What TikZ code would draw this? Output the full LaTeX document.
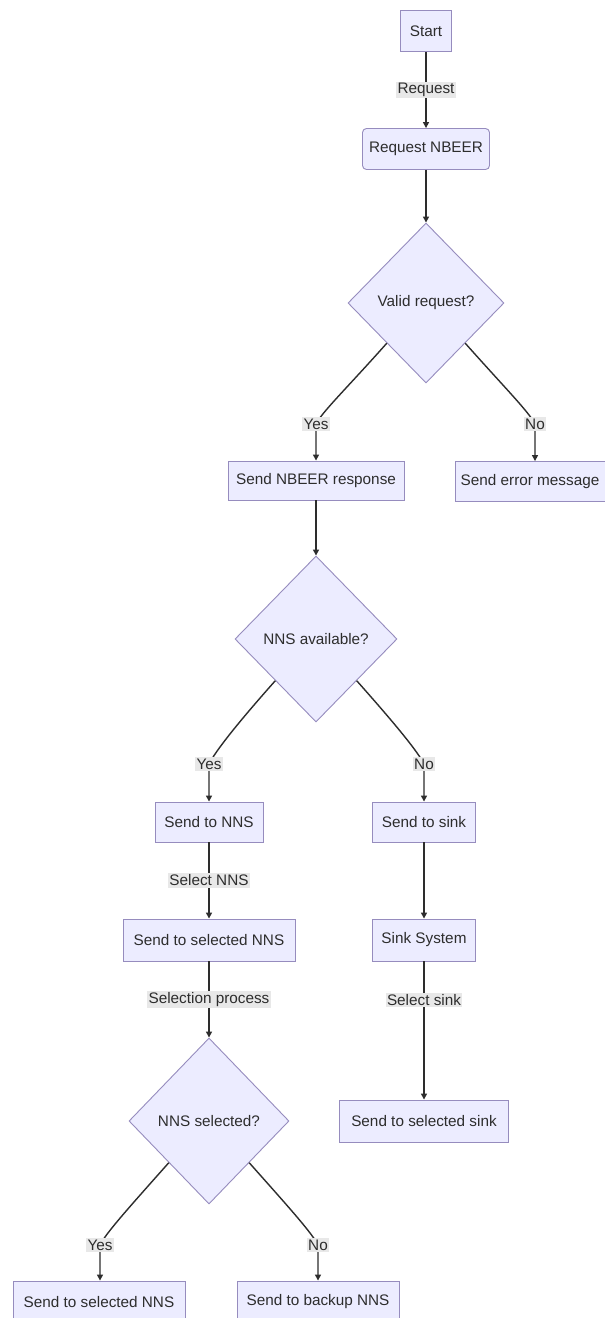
\documentclass[tikz,border=0pt]{standalone}
\usepackage{fontspec}
\setmainfont{Liberation Sans}
\usetikzlibrary{shapes.geometric,arrows.meta,calc}
\definecolor{boxfill}{RGB}{236,236,255}
\definecolor{boxdraw}{RGB}{150,140,190}
\definecolor{txt}{RGB}{45,45,45}
\definecolor{lblbg}{RGB}{232,232,232}
\tikzset{
  procbox/.style={draw=boxdraw, fill=boxfill, line width=0.9pt, text=txt,
    font=\fontsize{15.3}{18}\selectfont, inner sep=0pt, minimum height=41pt},
  decbox/.style={diamond, draw=boxdraw, fill=boxfill, line width=0.9pt, text=txt,
    font=\fontsize{15.3}{18}\selectfont, inner sep=0pt},
  elabel/.style={fill=lblbg, text=txt, font=\fontsize{15.3}{18}\selectfont,
    inner xsep=1.5pt, inner ysep=1.5pt},
  edge/.style={draw=txt, line width=1.4pt, -{Triangle[length=6pt,width=6pt]}},
}
\begin{document}
\begin{tikzpicture}[x=1pt,y=-1pt]
\useasboundingbox (0,0) rectangle (605,1318);
\clip (0,0) rectangle (605,1318);
\fill[white] (0,0) rectangle (605,1318);

% nodes
\node[procbox, minimum width=51pt] (start) at (426,31) {Start};
\node[procbox, minimum width=127pt, rounded corners=4pt] (req) at (426,149) {Request NBEER};
\node[decbox, minimum width=156pt, minimum height=160pt] (valid) at (426,303) {Valid request?};
\node[procbox, minimum width=176pt, minimum height=39pt] (snr) at (316,480.5) {Send NBEER response};
\node[procbox, minimum width=150pt, minimum height=40pt] (err) at (530,481.5) {Send error message};
\node[decbox, minimum width=162pt, minimum height=166pt] (avail) at (316,639) {NNS available?};
\node[procbox, minimum width=108pt, minimum height=40pt] (sendnns) at (209,822) {Send to NNS};
\node[procbox, minimum width=103pt, minimum height=40pt] (sendsink) at (424,822) {Send to sink};
\node[procbox, minimum width=172pt, minimum height=42pt] (selnns) at (209,940) {Send to selected NNS};
\node[procbox, minimum width=103pt, minimum height=42pt] (sinksys) at (424,940) {Sink System};
\node[decbox, minimum width=160pt, minimum height=166pt] (nnssel) at (209,1121) {NNS selected?};
\node[procbox, minimum width=169pt, minimum height=42pt] (selsink) at (424,1121) {Send to selected sink};
\node[procbox, minimum width=172pt, minimum height=42pt] (finnns) at (99,1302) {Send to selected NNS};
\node[procbox, minimum width=162pt, minimum height=42pt] (backup) at (318,1302) {Send to backup NNS};

% label coordinates
\coordinate (y1) at (316,424);
\coordinate (n1) at (535,424);
\coordinate (y2) at (209,764);
\coordinate (n2) at (424,764);
\coordinate (y3) at (100,1245);
\coordinate (n3) at (318,1245);

% straight edges
\draw[edge] (start) -- node[elabel, pos=0.5]{Request} (req);
\draw[edge] (req) -- (valid);
\draw[edge] (snr) -- (avail);
\draw[edge] (sendnns) -- node[elabel, pos=0.5]{Select NNS} (selnns);
\draw[edge] (selnns) -- node[elabel, pos=0.5]{Selection process} (nnssel);
\draw[edge] (sendsink) -- (sinksys);
\draw[edge] (sinksys) -- node[elabel, pos=0.28]{Select sink} (selsink);

% curved edges from decisions
\draw[edge] ($(valid.south)!0.5!(valid.west)$) .. controls +(-40,45) and +(6,-12) .. (y1) node[elabel]{Yes} -- (snr.north);
\draw[edge] ($(valid.south)!0.5!(valid.east)$) .. controls +(40,45) and +(-6,-12) .. (n1) node[elabel]{No} -- (err.north -| n1);
\draw[edge] ($(avail.south)!0.5!(avail.west)$) .. controls +(-40,45) and +(6,-12) .. (y2) node[elabel]{Yes} -- (sendnns.north);
\draw[edge] ($(avail.south)!0.5!(avail.east)$) .. controls +(40,45) and +(-6,-12) .. (n2) node[elabel]{No} -- (sendsink.north);
\draw[edge] ($(nnssel.south)!0.5!(nnssel.west)$) .. controls +(-40,45) and +(6,-12) .. (y3) node[elabel]{Yes} -- (finnns.north -| y3);
\draw[edge] ($(nnssel.south)!0.5!(nnssel.east)$) .. controls +(40,45) and +(-6,-12) .. (n3) node[elabel]{No} -- (backup.north);
\end{tikzpicture}
\end{document}
